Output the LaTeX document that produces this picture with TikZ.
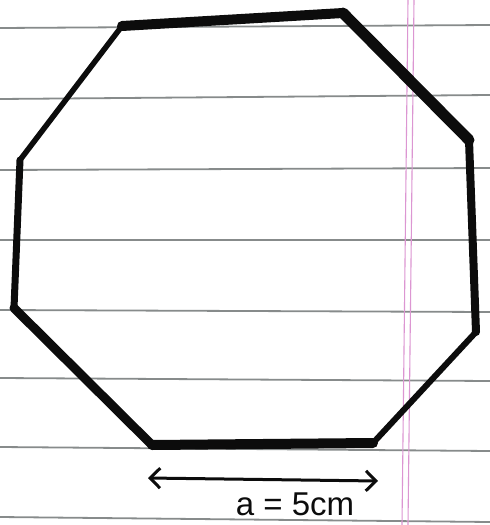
\documentclass[tikz,border=0pt]{standalone}
\usepackage{fontspec}
\setmainfont{Liberation Sans}
\usetikzlibrary{arrows.meta,positioning}
\definecolor{rulegray}{RGB}{95,100,100}
\definecolor{marginpink}{RGB}{220,150,210}
\definecolor{inkblack}{RGB}{12,12,12}

\begin{document}
\begin{tikzpicture}[
    x=1pt, y=-1pt,
    ruleline/.style={rulegray!75, line width=1.8pt},
    marginline/.style={marginpink, line width=1.1pt},
    edgeline/.style={inkblack, line cap=round, line join=round},
    dimarrow/.style={inkblack, line width=3pt, {Straight Barb[length=10pt,width=20pt]}-{Straight Barb[length=10pt,width=20pt]}},
    >=stealth
  ]
    \useasboundingbox[fill=white] (0,0) rectangle (490,525);

    % Paper rulings
    \foreach \y/\yy in {28/25, 99/95, 170/168, 240/240, 310/312, 378/381, 447/451, 517/522}{
      \draw[ruleline] (0,\y) -- (490,\yy);
    }
    \draw[marginline] (408,0) -- (402,525);
    \draw[marginline] (414,0) -- (408,525);

    % Corners of the octagon
    \coordinate (tl) at (122,26);
    \coordinate (tr) at (343,13);
    \coordinate (ru) at (469,140);
    \coordinate (rl) at (476,332);
    \coordinate (br) at (373,443);
    \coordinate (bl) at (152,445);
    \coordinate (ll) at (14,308);
    \coordinate (lu) at (20,160);

    % Sides
    \draw[edgeline, line width=10pt] (tl) -- (tr);
    \draw[edgeline, line width=11pt] (tr) -- (ru);
    \draw[edgeline, line width=8pt] (ru) -- (rl);
    \draw[edgeline, line width=6pt] (rl) -- (br);
    \draw[edgeline, line width=10pt] (br) -- (bl);
    \draw[edgeline, line width=9pt] (bl) -- (ll);
    \draw[edgeline, line width=7pt] (ll) -- (lu);
    \draw[edgeline, line width=5.5pt] (lu) -- (tl);

    % Side length
    \coordinate (al) at (148,478);
    \coordinate (ar) at (378,481);
    \draw[dimarrow] (al) -- (ar);
    \node[font=\fontsize{33}{33}\selectfont, text=inkblack] (alabel) at (295,504) {a = 5cm};
  \end{tikzpicture}
\end{document}
